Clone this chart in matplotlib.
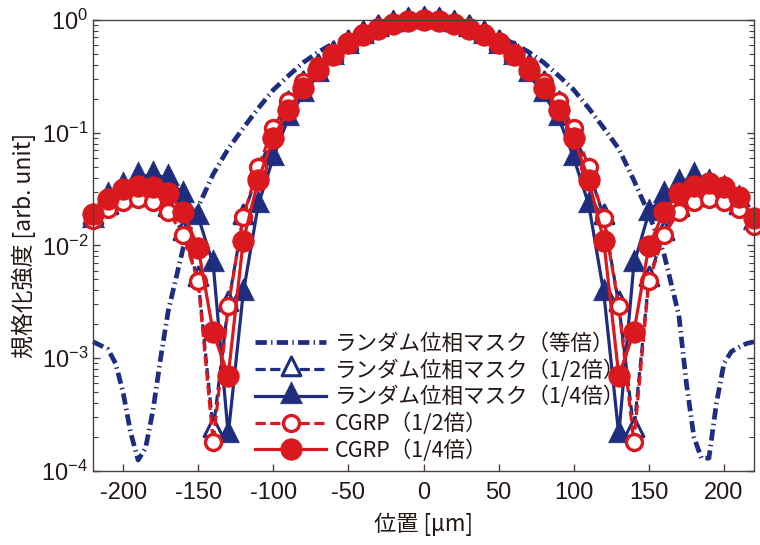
import numpy as np
import matplotlib
matplotlib.use("Agg")
import matplotlib.pyplot as plt
from matplotlib.path import Path

plt.rcParams['font.family'] = ['Liberation Sans', 'DejaVu Sans']
plt.rcParams['mathtext.fontset'] = 'custom'
plt.rcParams['mathtext.rm'] = 'Liberation Sans'
plt.rcParams['mathtext.it'] = 'Liberation Sans:italic'
plt.rcParams['axes.unicode_minus'] = False

# position [um], sampled every 10 um
x = [-220, -210, -200, -190, -180, -170, -160, -150, -140, -130, -120, -110,
     -100, -90, -80, -70, -60, -50, -40, -30, -20, -10, 0,
     10, 20, 30, 40, 50, 60, 70, 80, 90, 100, 110, 120, 130, 140, 150,
     160, 170, 180, 190, 200, 210, 220]

# random phase mask, 1/2
mask_half = [0.018, 0.022, 0.026, 0.027, 0.026, 0.021, 0.013, 0.005, 0.00023, 0.003, 0.018, 0.046,
             0.1, 0.18, 0.27, 0.38, 0.5, 0.63, 0.75, 0.85, 0.93, 0.98, 1.0,
             0.98, 0.93, 0.85, 0.75, 0.63, 0.5, 0.38, 0.27, 0.18, 0.1, 0.046, 0.018, 0.003, 0.00023, 0.005,
             0.013, 0.021, 0.026, 0.027, 0.026, 0.022, 0.016]
# random phase mask, 1/4
mask_quarter = [0.017, 0.0275, 0.034, 0.041, 0.042, 0.040, 0.028, 0.018, 0.0068, 0.00021, 0.0038, 0.023,
                0.06, 0.135, 0.22, 0.33, 0.47, 0.59, 0.72, 0.83, 0.92, 0.98, 1.0,
                0.98, 0.92, 0.83, 0.72, 0.59, 0.47, 0.33, 0.22, 0.135, 0.06, 0.023, 0.0038, 0.00021, 0.0068, 0.0195,
                0.028, 0.036, 0.041, 0.036, 0.032, 0.026, 0.016]
# CGRP 1/2
cgrp_half = [0.017, 0.021, 0.0245, 0.026, 0.0245, 0.020, 0.0124, 0.0048, 0.00018, 0.0029, 0.018, 0.05,
             0.11, 0.19, 0.28, 0.39, 0.51, 0.64, 0.76, 0.86, 0.93, 0.98, 1.0,
             0.98, 0.93, 0.86, 0.76, 0.64, 0.51, 0.39, 0.28, 0.19, 0.11, 0.05, 0.0175, 0.0029, 0.00018, 0.0048,
             0.0124, 0.020, 0.0245, 0.026, 0.0245, 0.021, 0.015]
# CGRP 1/4
cgrp_quarter = [0.019, 0.026, 0.032, 0.034, 0.033, 0.029, 0.020, 0.0095, 0.0017, 0.0007, 0.011, 0.038,
                0.09, 0.16, 0.25, 0.36, 0.49, 0.62, 0.74, 0.84, 0.92, 0.97, 1.0,
                0.97, 0.92, 0.84, 0.74, 0.62, 0.49, 0.36, 0.25, 0.16, 0.09, 0.038, 0.011, 0.0007, 0.0017, 0.0098,
                0.020, 0.029, 0.034, 0.036, 0.033, 0.027, 0.0175]

# random phase mask, same size (line only)
x_eq = [-220, -215, -210, -205, -200, -195, -190, -185, -180, -175, -170, -160, -150, -140,
        -130, -120, -110, -100, -90, -80, -70, -60, -50, -40, -30, -20, -10, 0,
        10, 20, 30, 40, 50, 60, 70, 80, 90, 100, 110, 120, 130, 140, 150, 160, 170,
        175, 180, 185, 190, 195, 200, 205, 210, 215, 220]
mask_eq = [1.4e-3, 1.3e-3, 1.2e-3, 9e-4, 5e-4, 2.2e-4, 1.25e-4, 1.6e-4, 3.5e-4, 1e-3, 2.6e-3, 9.5e-3, 0.022, 0.043,
           0.072, 0.11, 0.165, 0.24, 0.32, 0.42, 0.52, 0.62, 0.72, 0.81, 0.89, 0.95, 0.99, 1.0,
           0.99, 0.95, 0.89, 0.81, 0.72, 0.62, 0.52, 0.42, 0.32, 0.24, 0.165, 0.11, 0.072, 0.038, 0.019, 8.5e-3, 2.4e-3,
           6e-4, 2e-4, 1.3e-4, 1.3e-4, 4e-4, 9e-4, 1.15e-3, 1.25e-3, 1.35e-3, 1.4e-3]

labels = ['ランダム位相マスク（等倍）', 'ランダム位相マスク（1/2倍）', 'ランダム位相マスク（1/4倍）',
          'CGRP（1/2倍）', 'CGRP（1/4倍）']

navy = '#1e2d7d'
red = '#da191e'
ink = '#231815'
cjk = ['Noto Sans CJK JP', 'DejaVu Sans']

# triangle centred on its centroid
tri = Path([(0, 2/3), (-0.5, -1/3), (0.5, -1/3), (0, 2/3)], closed=True)

fig = plt.figure(figsize=(7.6, 5.45), dpi=100)
ax = fig.add_axes([0.1224, 0.1358, 0.8697, 0.8275])

ax.plot(x_eq, mask_eq, color=navy, lw=3.4, dashes=(2.4, 0.9, 0.3, 0.9),
        label=labels[0], clip_on=False)
ax.plot(x, mask_half, color=navy, lw=2.3, dashes=(3.2, 1.4), marker=tri, ms=18,
        mfc='white', mec=navy, mew=2.2, label=labels[1], clip_on=False)
ax.plot(x, mask_quarter, color=navy, lw=2.3, marker=tri, ms=21,
        mfc=navy, mec=navy, mew=0.5, label=labels[2], clip_on=False)
ax.plot(x, cgrp_half, color=red, lw=2.3, dashes=(3.2, 1.4), marker='o', ms=11.5,
        mfc='white', mec=red, mew=2.4, label=labels[3], clip_on=False)
ax.plot(x, cgrp_quarter, color=red, lw=2.3, marker='o', ms=15.5,
        mfc=red, mec=red, mew=0.5, label=labels[4], clip_on=False)

ax.set_yscale('log')
ax.set_ylim(1e-4, 1)
ax.set_xlim(-220, 220)
ax.set_xticks([-200, -150, -100, -50, 0, 50, 100, 150, 200])

for s in ax.spines.values():
    s.set_color('#4d4040')
    s.set_linewidth(1.0)
ax.tick_params(axis='both', which='both', direction='in', colors='#4d4040',
               labelcolor=ink, labelsize=17)
ax.tick_params(axis='y', which='both', right=True)
ax.tick_params(axis='both', which='major', length=5, width=1.0)
ax.tick_params(axis='y', which='minor', length=3.5, width=0.8)
ax.tick_params(axis='x', pad=8)

ax.set_xlabel('位置 [μm]', family=cjk, fontsize=16, color=ink, labelpad=6)
ax.set_ylabel('規格化強度 [arb. unit]', family=cjk, fontsize=16.5, color=ink, labelpad=4)

leg = ax.legend(loc='upper left', bbox_to_anchor=(255/760, 1 - 333/545),
                bbox_transform=fig.transFigure, frameon=False, numpoints=1,
                handlelength=3.3, handletextpad=0.4, labelspacing=0.2,
                borderpad=0, borderaxespad=0, prop={'family': cjk, 'size': 15.5})
for t in leg.get_texts():
    t.set_color(ink)

fig.savefig('out.png', dpi=100)
